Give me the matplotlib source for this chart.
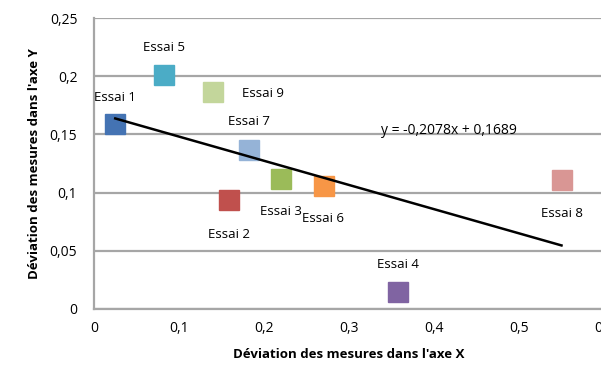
import matplotlib
matplotlib.use("Agg")
import matplotlib.pyplot as plt
import numpy as np

# data
labels = ["Essai 1", "Essai 2", "Essai 3", "Essai 4", "Essai 5",
          "Essai 6", "Essai 7", "Essai 8", "Essai 9"]
x_dev = [0.025, 0.159, 0.220, 0.358, 0.082, 0.270, 0.182, 0.550, 0.140]
y_dev = [0.159, 0.094, 0.112, 0.0145, 0.201, 0.106, 0.137, 0.111, 0.186]
colors = ["#4473b3", "#c0504d", "#9bbb59", "#8064a2", "#4bacc6",
          "#f79646", "#95b3d7", "#d99694", "#c3d69b"]
slope, intercept = -0.2078, 0.1689
x_ticks = [0, 0.1, 0.2, 0.3, 0.4, 0.5, 0.6]
y_ticks = [0, 0.05, 0.1, 0.15, 0.2, 0.25]

# label offsets (points) for each marker
offsets = [(0, 19), (0, -25), (0, -24), (0, 20), (0, 20),
           (0, -24), (0, 20), (0, -24), (36, -1)]

plt.rcParams["font.family"] = ["Open Sans", "DejaVu Sans"]

fig = plt.figure(figsize=(6.01, 3.67), dpi=100)
ax = fig.add_axes([94 / 601, 1 - 309 / 367, 510 / 601, 291 / 367])

ax.set_xlim(0, 0.6)
ax.set_ylim(0, 0.25)
ax.set_yticks(y_ticks)
ax.set_xticks(x_ticks)
ax.set_yticklabels([f"{v:g}".replace(".", ",") for v in y_ticks], fontsize=10)
ax.set_xticklabels([f"{v:g}".replace(".", ",") for v in x_ticks], fontsize=10)
ax.tick_params(length=0, pad=9)
ax.tick_params(axis="y", pad=12)

ax.grid(axis="y", color="#a6a6a6", linewidth=1.6)
ax.set_axisbelow(True)
for side in ["top", "right"]:
    ax.spines[side].set_visible(False)
for side in ["left", "bottom"]:
    ax.spines[side].set_color("#a6a6a6")
    ax.spines[side].set_linewidth(1.6)

# trendline
xs = np.array([min(x_dev), max(x_dev)])
ax.plot(xs, slope * xs + intercept, color="black", linewidth=1.8, zorder=4)

for lab, x, y, c, off in zip(labels, x_dev, y_dev, colors, offsets):
    ax.plot(x, y, marker="s", markersize=15, color=c, linestyle="none", zorder=3)
    ax.annotate(lab, (x, y), xytext=off, textcoords="offset points",
                ha="center", va="center", fontsize=9.5)

ax.text(0.696, 0.613, "y = -0,2078x + 0,1689", transform=ax.transAxes,
        ha="center", va="center", fontsize=10)

ax.set_xlabel("Déviation des mesures dans l'axe X", fontsize=9.5,
              fontweight="bold", labelpad=8)
ax.set_ylabel("Déviation des mesures dans l'axe Y", fontsize=9.5,
              fontweight="bold", labelpad=6)

fig.savefig("out.png", dpi=100)
